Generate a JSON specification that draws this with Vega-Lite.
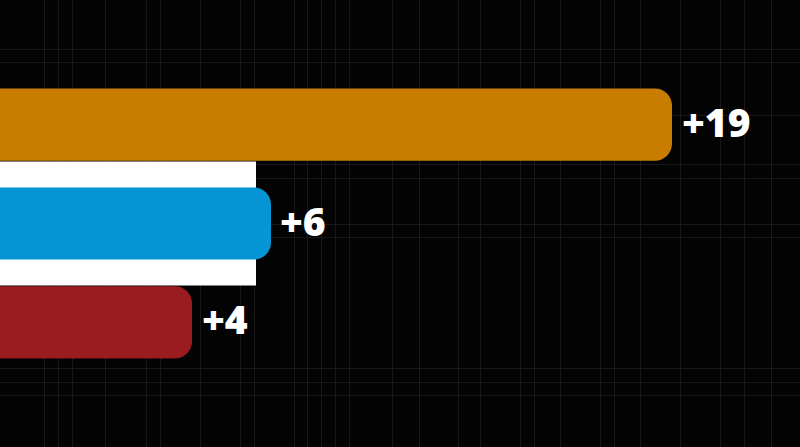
{
  "$schema": "https://vega.github.io/schema/vega-lite/v6.json",
  "width": 800,
  "height": 447,
  "padding": 0,
  "autosize": {"type": "fit", "contains": "padding"},
  "background": "#030303",
  "data": {
    "values": [
      {"party": "A", "value": 19, "label": "+19"},
      {"party": "B", "value": 6, "label": "+6"},
      {"party": "C", "value": 4, "label": "+4"}
    ]
  },
  "encoding": {
    "x": {
      "field": "value",
      "type": "quantitative",
      "scale": {"domain": [-2, 23], "zero": false, "nice": false},
      "axis": {
        "values": [-0.625, -0.19, 0.25, 1.28, 2.56, 3, 4.25, 5.5, 5.94, 7.19, 7.6, 8.03, 8.47, 8.9, 10.25, 11.1, 12.3, 13, 14.25, 14.69, 15.5, 16.75, 17.2, 18, 19.25, 20.5, 21.25, 22.1],
        "grid": true,
        "gridColor": "#181818",
        "gridWidth": 1,
        "labels": false,
        "ticks": false,
        "domain": false,
        "title": null
      }
    }
  },
  "layer": [
    {
      "mark": {"type": "rule", "opacity": 0},
      "transform": [{"filter": "datum.party == 'A'"}],
      "encoding": {
        "x": {"field": "value", "type": "quantitative"},
        "y": {
          "datum": 0,
          "type": "quantitative",
          "scale": {"domain": [0, 11.175], "nice": false, "zero": false},
          "axis": {
            "values": [1.3, 1.63, 1.97, 5.25, 5.58, 6.72, 7.08, 8.3, 9.63, 9.95],
            "grid": true,
            "gridColor": "#181818",
            "labels": false,
            "ticks": false,
            "domain": false,
            "title": null
          }
        }
      }
    },
    {
      "encoding": {
        "y": {
          "field": "party",
          "type": "nominal",
          "scale": {"domain": ["A", "B", "C"], "paddingInner": 0.27, "paddingOuter": 0.894},
          "axis": null
        }
      },
      "layer": [
        {
          "transform": [{"filter": "datum.party == 'B'"}],
          "mark": {"type": "bar", "color": "#ffffff", "height": 124},
          "encoding": {"x2": {"datum": -2}}
        },
        {
          "transform": [{"filter": "datum.party != 'B'"}],
          "mark": {"type": "bar", "cornerRadiusTopRight": 17, "cornerRadiusBottomRight": 17},
          "encoding": {
            "x2": {"datum": -2},
            "color": {
              "field": "party",
              "type": "nominal",
              "scale": {"domain": ["A", "B", "C"], "range": ["#c87c00", "#0695d4", "#9a1b20"]},
              "legend": null
            }
          }
        },
        {
          "transform": [{"filter": "datum.party == 'B'"}],
          "mark": {"type": "bar", "cornerRadiusTopRight": 17, "cornerRadiusBottomRight": 17, "xOffset": 15, "color": "#0695d4"},
          "encoding": {"x2": {"datum": -2}}
        },
        {
          "transform": [{"filter": "datum.party != 'B'"}],
          "mark": {"type": "text", "align": "left", "baseline": "middle", "dx": 10, "font": "Open Sans", "fontWeight": 800, "fontSize": 39, "color": "#ffffff"},
          "encoding": {"text": {"field": "label"}}
        },
        {
          "transform": [{"filter": "datum.party == 'B'"}],
          "mark": {"type": "text", "align": "left", "baseline": "middle", "dx": 24, "font": "Open Sans", "fontWeight": 800, "fontSize": 39, "color": "#ffffff"},
          "encoding": {"text": {"field": "label"}}
        }
      ]
    }
  ],
  "resolve": {"scale": {"y": "independent"}},
  "config": {
    "view": {"stroke": null}
  }
}
